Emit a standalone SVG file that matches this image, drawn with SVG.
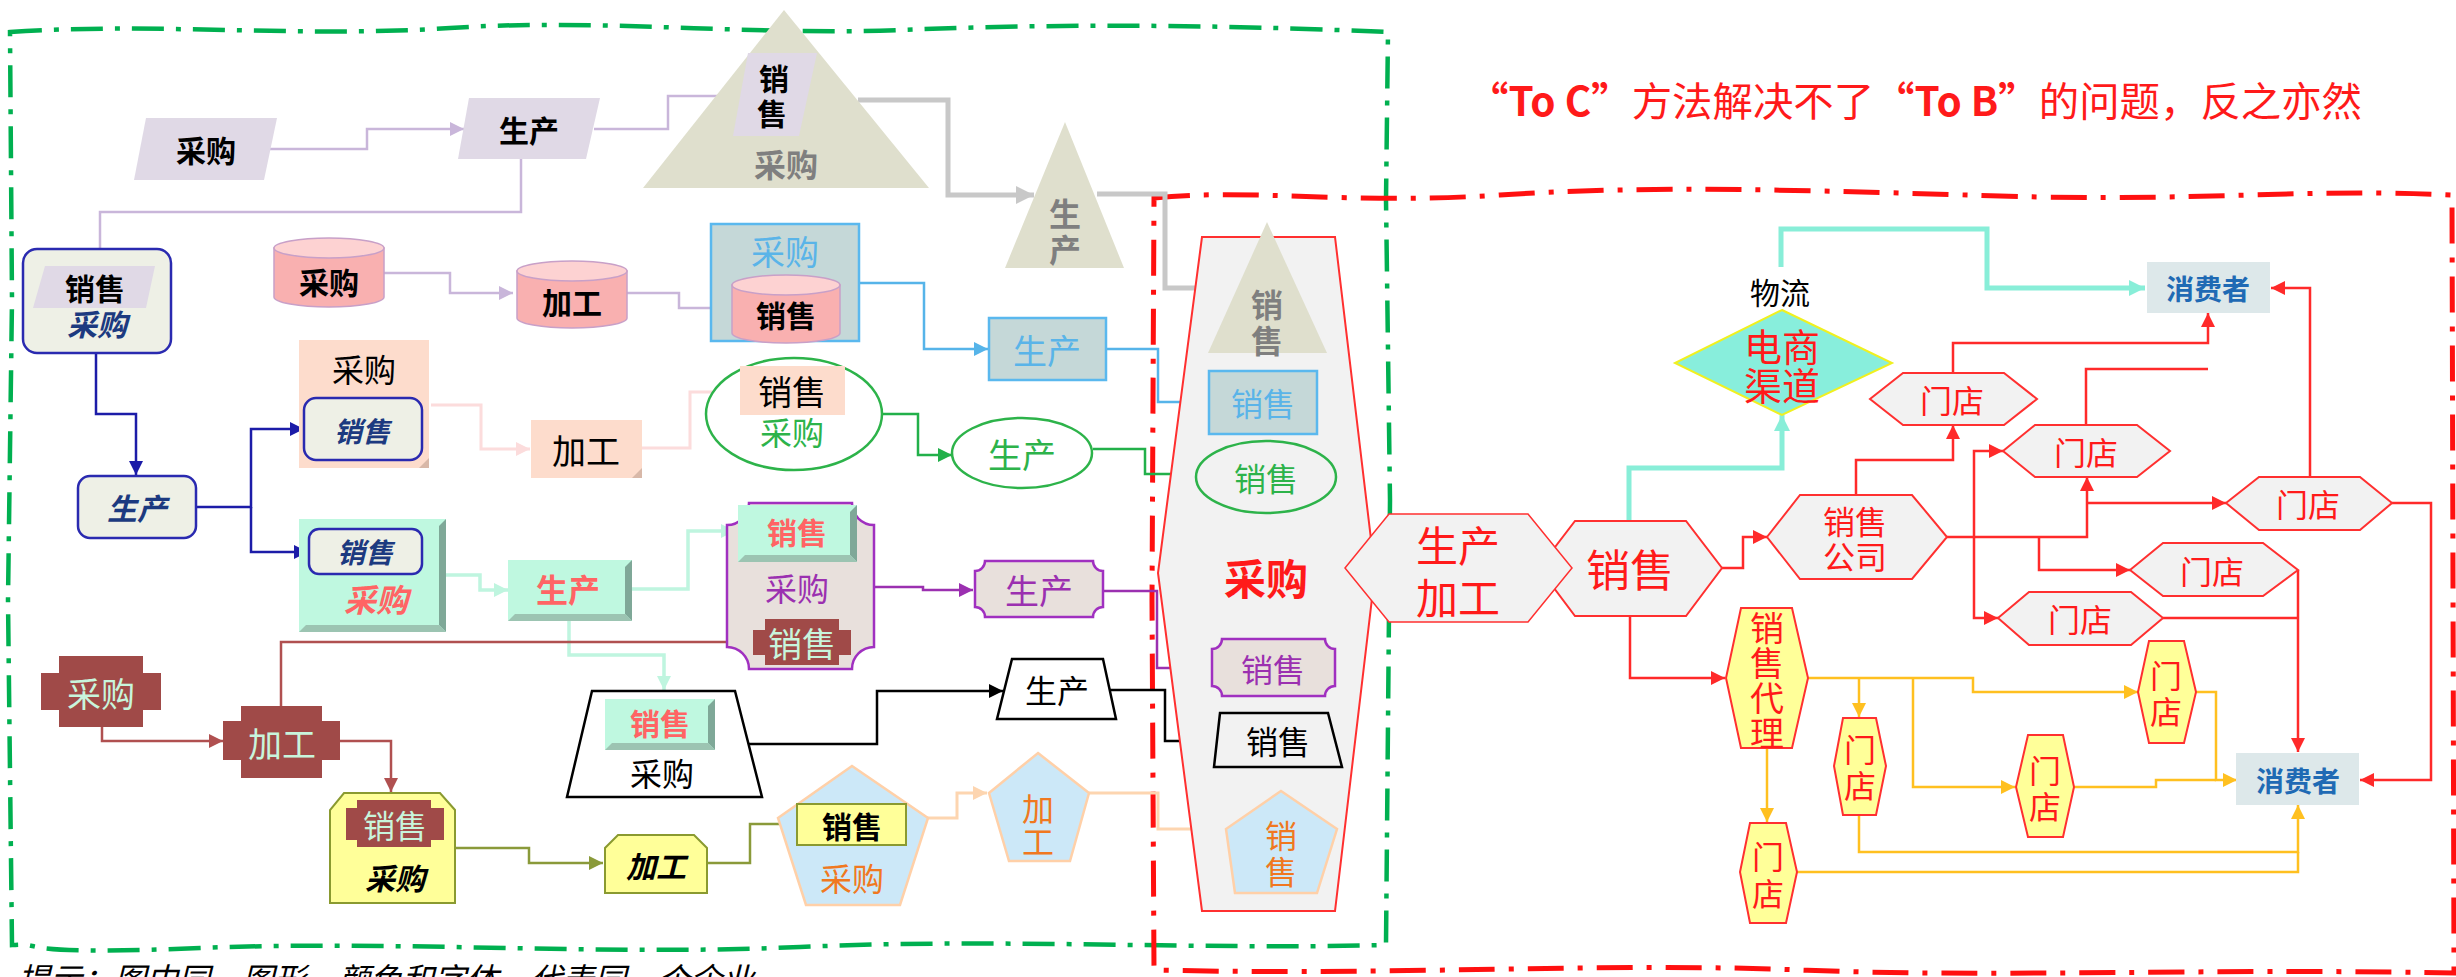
<svg xmlns="http://www.w3.org/2000/svg" width="2456" height="977" viewBox="0 0 2456 977">
<style>
text{font-family:"Noto Sans CJK SC","Liberation Sans",sans-serif;text-anchor:middle;dominant-baseline:central;font-size:32px;}
.b{font-weight:700}
.hw{font-style:italic;font-weight:700;fill:#1c3a80}
.c{fill:none;stroke-width:2.5}
.lav{stroke:#c9b6da}
.gry{stroke:#c8c8c8;stroke-width:5}
.blu{stroke:#56b4e9}
.grn{stroke:#22b04a}
.pnk{stroke:#fcdcdc;stroke-width:3}
.dbl{stroke:#1c1ca8}
.mnt{stroke:#bff5df;stroke-width:3.5}
.pur{stroke:#9b30b0}
.brn{stroke:#b05050}
.blk{stroke:#000}
.olv{stroke:#8a9a3a}
.pch{stroke:#fdd5b0;stroke-width:3}
.tea{stroke:#88eed8;stroke-width:5}
.red{stroke:#ff2a2a}
.gld{stroke:#ffc020}
.par{fill:#e0d9e6}
.tri{fill:#dfdfcd}
.cylb{fill:#f9b0b0;stroke:#c8a0c8;stroke-width:1.5}
.cylt{fill:#fdd2d2;stroke:#c8a0c8;stroke-width:1.5}
.bbox{fill:#c5d8d8;stroke:#5ab8ee;stroke-width:2.5}
.rbox{fill:#eef0e6;stroke:#2a2ab0;stroke-width:2.5}
.peach{fill:#fddccc}
.mint{fill:#bff8e0}
.bevR{fill:#7fa898}
.bevB{fill:#9cc4b2}
.purs{fill:#e8e0dc;stroke:#a030c0;stroke-width:2.5}
.brw{fill:#a04a48}
.yel{fill:#ffff99;stroke:#8a9a30;stroke-width:2}
.pent{fill:#cce8f8;stroke:#ffd0a8;stroke-width:2.5}
.gh{fill:#f2f2f2;stroke:#ff3030;stroke-width:2}
.yh{fill:#ffff99;stroke:#ff3030;stroke-width:2}
.cons{fill:#dde8ea}
.rt{fill:#ff1a1a}
.ct{fill:#1f6ab4;font-weight:700;font-size:28px}
</style>
<defs>
<marker id="a-lav" viewBox="0 0 10 10" refX="10" refY="5" markerWidth="14" markerHeight="14" markerUnits="userSpaceOnUse" orient="auto"><path d="M0,0L10,5L0,10Z" fill="#c9b6da"/></marker>
<marker id="a-gry" viewBox="0 0 10 10" refX="10" refY="5" markerWidth="18" markerHeight="18" markerUnits="userSpaceOnUse" orient="auto"><path d="M0,0L10,5L0,10Z" fill="#c8c8c8"/></marker>
<marker id="a-blu" viewBox="0 0 10 10" refX="10" refY="5" markerWidth="14" markerHeight="14" markerUnits="userSpaceOnUse" orient="auto"><path d="M0,0L10,5L0,10Z" fill="#56b4e9"/></marker>
<marker id="a-grn" viewBox="0 0 10 10" refX="10" refY="5" markerWidth="14" markerHeight="14" markerUnits="userSpaceOnUse" orient="auto"><path d="M0,0L10,5L0,10Z" fill="#22b04a"/></marker>
<marker id="a-pnk" viewBox="0 0 10 10" refX="10" refY="5" markerWidth="14" markerHeight="14" markerUnits="userSpaceOnUse" orient="auto"><path d="M0,0L10,5L0,10Z" fill="#fcdcdc"/></marker>
<marker id="a-dbl" viewBox="0 0 10 10" refX="10" refY="5" markerWidth="14" markerHeight="14" markerUnits="userSpaceOnUse" orient="auto"><path d="M0,0L10,5L0,10Z" fill="#1c1ca8"/></marker>
<marker id="a-mnt" viewBox="0 0 10 10" refX="10" refY="5" markerWidth="14" markerHeight="14" markerUnits="userSpaceOnUse" orient="auto"><path d="M0,0L10,5L0,10Z" fill="#bff5df"/></marker>
<marker id="a-pur" viewBox="0 0 10 10" refX="10" refY="5" markerWidth="14" markerHeight="14" markerUnits="userSpaceOnUse" orient="auto"><path d="M0,0L10,5L0,10Z" fill="#9b30b0"/></marker>
<marker id="a-brn" viewBox="0 0 10 10" refX="10" refY="5" markerWidth="14" markerHeight="14" markerUnits="userSpaceOnUse" orient="auto"><path d="M0,0L10,5L0,10Z" fill="#b05050"/></marker>
<marker id="a-blk" viewBox="0 0 10 10" refX="10" refY="5" markerWidth="14" markerHeight="14" markerUnits="userSpaceOnUse" orient="auto"><path d="M0,0L10,5L0,10Z" fill="#000"/></marker>
<marker id="a-olv" viewBox="0 0 10 10" refX="10" refY="5" markerWidth="14" markerHeight="14" markerUnits="userSpaceOnUse" orient="auto"><path d="M0,0L10,5L0,10Z" fill="#8a9a3a"/></marker>
<marker id="a-pch" viewBox="0 0 10 10" refX="10" refY="5" markerWidth="14" markerHeight="14" markerUnits="userSpaceOnUse" orient="auto"><path d="M0,0L10,5L0,10Z" fill="#fdd5b0"/></marker>
<marker id="a-tea" viewBox="0 0 10 10" refX="10" refY="5" markerWidth="16" markerHeight="16" markerUnits="userSpaceOnUse" orient="auto"><path d="M0,0L10,5L0,10Z" fill="#88eed8"/></marker>
<marker id="a-red" viewBox="0 0 10 10" refX="10" refY="5" markerWidth="14" markerHeight="14" markerUnits="userSpaceOnUse" orient="auto"><path d="M0,0L10,5L0,10Z" fill="#ff2a2a"/></marker>
<marker id="a-gld" viewBox="0 0 10 10" refX="10" refY="5" markerWidth="14" markerHeight="14" markerUnits="userSpaceOnUse" orient="auto"><path d="M0,0L10,5L0,10Z" fill="#ffc020"/></marker>
</defs>
<rect width="2456" height="977" fill="#fff"/>

<g id="borders" fill="none">
<path d="M10,32 C150,22 300,38 450,28 S750,36 900,30 S1200,24 1388,32 L1386,200 L1390,500 L1386,945 C1200,950 1000,938 800,947 S400,940 200,948 S50,942 12,945 L8,600 L12,300 Z" stroke="#00b050" stroke-width="4.5" stroke-dasharray="32 12 5 12"/>
<path d="M1154,198 C1250,188 1350,205 1500,195 S1800,190 2000,196 S2300,188 2452,195 L2454,973 C2200,968 2000,978 1800,970 S1400,976 1154,970 L1152,600 Z" stroke="#ff1010" stroke-width="5" stroke-dasharray="36 14 5 14"/>
</g>

<text id="title" x="1468" y="116" style="text-anchor:start;dominant-baseline:auto;font-size:40px" class="rt" textLength="894" lengthAdjust="spacingAndGlyphs"><tspan class="b">“To C”</tspan>方法解决不了<tspan class="b">“To B”</tspan>的问题，反之亦然</text>
<text id="note" x="18" y="991" style="text-anchor:start;dominant-baseline:auto;font-size:32px;font-style:italic">提示：图中同一图形、颜色和字体，代表同一个企业</text>

<g id="connectors" class="c">
<polyline class="c lav" points="270,149 367,149 367,129 464,129" marker-end="url(#a-lav)"/>
<polyline class="c lav" points="521,159 521,212 100,212 100,264" marker-end="url(#a-lav)"/>
<polyline class="c lav" points="594,129 668,129 668,96 740,96" marker-end="url(#a-lav)"/>
<polyline class="c lav" points="384,273 450,273 450,293 513,293" marker-end="url(#a-lav)"/>
<polyline class="c lav" points="627,293 679,293 679,308 730,308" marker-end="url(#a-lav)"/>
<polyline class="c gry" points="858,100 948,100 948,195 1034,195" marker-end="url(#a-gry)"/>
<polyline class="c gry" points="1097,194 1165,194 1165,288 1232,288" marker-end="url(#a-gry)"/>
<polyline class="c blu" points="859,283 924,283 924,349 988,349" marker-end="url(#a-blu)"/>
<polyline class="c blu" points="1106,349 1158,349 1158,402 1208,402" marker-end="url(#a-blu)"/>
<polyline class="c grn" points="883,414 918,414 918,455 952,455" marker-end="url(#a-grn)"/>
<polyline class="c grn" points="1093,449 1145,449 1145,474 1196,474" marker-end="url(#a-grn)"/>
<polyline class="c pnk" points="431,405 481,405 481,449 530,449" marker-end="url(#a-pnk)"/>
<polyline class="c pnk" points="642,448 690,448 690,392 737,392" marker-end="url(#a-pnk)"/>
<polyline class="c dbl" points="96,353 96,414 136,414 136,475" marker-end="url(#a-dbl)"/>
<polyline class="c dbl" points="196,507 251,507 251,429 304,429" marker-end="url(#a-dbl)"/>
<polyline class="c dbl" points="251,507 251,552 308,552" marker-end="url(#a-dbl)"/>
<polyline class="c mnt" points="446,575 480,575 480,590 508,590" marker-end="url(#a-mnt)"/>
<polyline class="c mnt" points="632,589 688,589 688,531 735,531" marker-end="url(#a-mnt)"/>
<polyline class="c mnt" points="569,621 569,655 664,655 664,690" marker-end="url(#a-mnt)"/>
<polyline class="c pur" points="874,587 923,587 923,590 973,590" marker-end="url(#a-pur)"/>
<polyline class="c pur" points="1103,591 1157,591 1157,668 1212,668" marker-end="url(#a-pur)"/>
<polyline class="c brn" points="102,727 102,741 223,741" marker-end="url(#a-brn)"/>
<polyline class="c brn" points="281,706 281,642 753,642" marker-end="url(#a-brn)"/>
<polyline class="c brn" points="340,741 391,741 391,792" marker-end="url(#a-brn)"/>
<polyline class="c blk" points="748,744 877,744 877,691 1003,691" marker-end="url(#a-blk)"/>
<polyline class="c blk" points="1110,690 1165,690 1165,741 1220,741" marker-end="url(#a-blk)"/>
<polyline class="c olv" points="455,848 529,848 529,863 603,863" marker-end="url(#a-olv)"/>
<polyline class="c olv" points="707,863 750,863 750,824 795,824" marker-end="url(#a-olv)"/>
<polyline class="c pch" points="924,818 957,818 957,793 987,793" marker-end="url(#a-pch)"/>
<polyline class="c pch" points="1089,793 1158,793 1158,829 1226,829" marker-end="url(#a-pch)"/>
<polyline class="c tea" points="1629,521 1629,468 1782,468 1782,415" marker-end="url(#a-tea)"/>
<polyline class="c tea" points="1781,267 1781,229 1987,229 1987,288 2145,288" marker-end="url(#a-tea)"/>
<polyline class="c red" points="1722,568 1743,568 1743,537 1767,537" marker-end="url(#a-red)"/>
<polyline class="c red" points="1856,495 1856,460 1953,460 1953,425" marker-end="url(#a-red)"/>
<polyline class="c red" points="1953,373 1953,343 2208,343 2208,313" marker-end="url(#a-red)"/>
<polyline class="c red" points="2086,425 2086,369 2208,369"/>
<polyline class="c red" points="1947,537 2087,537 2087,477" marker-end="url(#a-red)"/>
<polyline class="c red" points="2087,503 2226,503" marker-end="url(#a-red)"/>
<polyline class="c red" points="1974,537 1974,451 2003,451" marker-end="url(#a-red)"/>
<polyline class="c red" points="1974,537 1974,618 1998,618" marker-end="url(#a-red)"/>
<polyline class="c red" points="2039,537 2039,570 2130,570" marker-end="url(#a-red)"/>
<polyline class="c red" points="2310,477 2310,288 2271,288" marker-end="url(#a-red)"/>
<polyline class="c red" points="2392,503 2431,503 2431,780 2360,780" marker-end="url(#a-red)"/>
<polyline class="c red" points="2298,570 2298,752" marker-end="url(#a-red)"/>
<polyline class="c red" points="2163,618 2298,618"/>
<polyline class="c red" points="1630,616 1630,678 1725,678" marker-end="url(#a-red)"/>
<polyline class="c gld" points="1808,678 1973,678 1973,692 2138,692" marker-end="url(#a-gld)"/>
<polyline class="c gld" points="1859,678 1859,717" marker-end="url(#a-gld)"/>
<polyline class="c gld" points="1913,678 1913,787 2015,787" marker-end="url(#a-gld)"/>
<polyline class="c gld" points="1767,748 1767,822" marker-end="url(#a-gld)"/>
<polyline class="c gld" points="1859,815 1859,852 2298,852 2298,805" marker-end="url(#a-gld)"/>
<polyline class="c gld" points="1797,872 2298,872 2298,852"/>
<polyline class="c gld" points="2196,692 2216,692 2216,780 2237,780" marker-end="url(#a-gld)"/>
<polyline class="c gld" points="2074,787 2156,787 2156,780 2216,780"/>
</g>

<g id="n-caigou1"><polygon class="par" points="146,118 277,118 264,180 134,180"/><text x="206" y="149" class="b" style="font-size:30px">采购</text></g>
<g id="n-shengchan1"><polygon class="par" points="469,98 600,98 586,159 458,159"/><text x="529" y="129" class="b" style="font-size:30px">生产</text></g>
<g id="n-tri1"><polygon class="tri" points="784,10 929,188 643,188"/><polygon class="par" points="748,53 817,53 799,136 733,136"/><text x="774" y="77" class="b" style="font-size:30px">销<tspan x="772" dy="35">售</tspan></text><text x="786" y="163" class="b" style="fill:#7f7f7f;font-size:32px">采购</text></g>
<g id="n-tri2"><polygon class="tri" points="1065,122 1124,268 1005,268"/><text x="1065" y="212" class="b" style="fill:#7f7f7f">生<tspan x="1065" dy="36">产</tspan></text></g>
<g id="n-xs-cg"><rect x="23" y="249" width="148" height="104" rx="14" class="rbox"/><polygon class="par" points="45,266 155,266 146,308 33,308"/><text x="95" y="287" class="b" style="font-size:30px">销售</text><text x="97" y="323" class="hw" style="font-size:30px">采购</text></g>
<g id="n-cyl-cg"><path class="cylb" d="M274,248 V297 A55,10 0 0 0 384,297 V248 Z"/><ellipse class="cylt" cx="329" cy="248" rx="55" ry="10"/><text x="329" y="281" class="b" style="font-size:30px">采购</text></g>
<g id="n-cyl-jg"><path class="cylb" d="M517,271 V318 A55,10 0 0 0 627,318 V271 Z"/><ellipse class="cylt" cx="572" cy="271" rx="55" ry="10"/><text x="572" y="301" class="b" style="font-size:30px">加工</text></g>
<g id="n-blue-cg"><rect x="711" y="224" width="148" height="117" class="bbox"/><text x="785" y="250" style="fill:#5ab4e8;font-size:34px">采购</text><path class="cylb" d="M732,285 V333 A54,10 0 0 0 840,333 V285 Z"/><ellipse class="cylt" cx="786" cy="285" rx="54" ry="10"/><text x="786" y="314" class="b" style="font-size:30px">销售</text></g>
<g id="n-blue-sc"><rect x="989" y="318" width="117" height="62" class="bbox"/><text x="1047" y="349" style="fill:#5ab4e8;font-size:34px">生产</text></g>
<g id="n-peach-cg"><rect x="299" y="340" width="130" height="128" class="peach"/><polygon points="419,468 429,458 429,468" fill="#d8b8a8"/><text x="364" y="368">采购</text><rect x="304" y="398" width="118" height="62" rx="12" class="rbox"/><text x="362" y="430" class="hw" style="font-size:28px">销售</text></g>
<g id="n-peach-jg"><rect x="531" y="420" width="111" height="58" class="peach"/><polygon points="632,478 642,468 642,478" fill="#d8b8a8"/><text x="586" y="449" style="font-size:34px">加工</text></g>
<g id="n-ell-xs"><ellipse cx="794" cy="414" rx="88" ry="56" fill="#fff" stroke="#2db34a" stroke-width="2.5"/><rect x="740" y="366" width="105" height="49" class="peach"/><text x="792" y="390" style="font-size:34px">销售</text><text x="792" y="431" style="fill:#2db34a">采购</text></g>
<g id="n-ell-sc"><ellipse cx="1022" cy="453" rx="70" ry="35" fill="#fff" stroke="#2db34a" stroke-width="2.5"/><text x="1022" y="453" style="fill:#2db34a;font-size:34px">生产</text></g>
<g id="n-rb-sc"><rect x="78" y="476" width="118" height="62" rx="12" class="rbox"/><text x="137" y="507" class="hw" style="font-size:30px">生产</text></g>
<g id="n-mint-big"><rect x="299" y="519" width="147" height="113" class="mint"/><polygon class="bevR" points="439,526 446,519 446,632 439,625"/><polygon class="bevB" points="299,632 306,625 439,625 446,632"/><rect x="309" y="529" width="113" height="45" rx="10" class="rbox"/><text x="365" y="551" class="hw" style="font-size:28px">销售</text><text x="376" y="598" class="hw" style="fill:#ff6464">采购</text></g>
<g id="n-mint-sc"><rect x="508" y="560" width="124" height="61" class="mint"/><polygon class="bevR" points="625,567 632,560 632,621 625,614"/><polygon class="bevB" points="508,621 515,614 625,614 632,621"/><text x="568" y="588" class="b" style="fill:#ff6464">生产</text></g>
<g id="n-pur-big"><path class="purs" d="M749,503 H852 A22,22 0 0 0 874,525 V647 A22,22 0 0 0 852,669 H749 A22,22 0 0 0 727,647 V525 A22,22 0 0 0 749,503 Z"/><rect x="738" y="505" width="119" height="57" class="mint"/><polygon class="bevR" points="850,512 857,505 857,562 850,555"/><polygon class="bevB" points="738,562 745,555 850,555 857,562"/><text x="797" y="531" class="b" style="fill:#ff6464;font-size:30px">销售</text><text x="797" y="587" style="fill:#9b30b0">采购</text><polygon class="brw" points="765,619 839,619 839,630 851,630 851,655 839,655 839,665 765,665 765,655 753,655 753,630 765,630"/><text x="802" y="642" style="fill:#c8f5dc;font-size:34px">销售</text></g>
<g id="n-pur-sc"><path class="purs" d="M985,561 H1093 A10,10 0 0 0 1103,571 V607 A10,10 0 0 0 1093,617 H985 A10,10 0 0 0 975,607 V571 A10,10 0 0 0 985,561 Z"/><text x="1039" y="589" style="fill:#9b30b0;font-size:34px">生产</text></g>
<g id="n-trap-big"><polygon points="592,691 735,691 762,797 567,797" fill="#fff" stroke="#000" stroke-width="2.5"/><rect x="605" y="699" width="110" height="51" class="mint"/><polygon class="bevR" points="708,706 715,699 715,750 708,743"/><polygon class="bevB" points="605,750 612,743 708,743 715,750"/><text x="660" y="722" class="b" style="fill:#ff6464;font-size:30px">销售</text><text x="662" y="772">采购</text></g>
<g id="n-trap-sc"><polygon points="1012,659 1103,659 1116,719 997,719" fill="#fff" stroke="#000" stroke-width="2.5"/><text x="1057" y="689">生产</text></g>
<g id="n-brown-cg"><polygon class="brw" points="59,656 143,656 143,673 161,673 161,710 143,710 143,727 59,727 59,710 41,710 41,673 59,673"/><text x="101" y="692" style="fill:#c8f5dc;font-size:34px">采购</text></g>
<g id="n-brown-jg"><polygon class="brw" points="241,706 322,706 322,721 340,721 340,760 322,760 322,778 241,778 241,760 223,760 223,721 241,721"/><text x="282" y="742" style="fill:#c8f5dc;font-size:34px">加工</text></g>
<g id="n-yel-xs"><polygon class="yel" points="344,793 440,793 455,810 455,903 330,903 330,810"/><polygon class="brw" points="357,800 431,800 431,808 444,808 444,840 431,840 431,847 357,847 357,840 346,840 346,808 357,808"/><text x="395" y="824" style="fill:#c8f5dc;font-size:32px">销售</text><text x="395" y="877" class="hw" style="fill:#000;font-size:30px">采购</text></g>
<g id="n-yel-jg"><polygon class="yel" points="618,835 694,835 707,848 707,893 605,893 605,848"/><text x="656" y="865" class="hw" style="fill:#000;font-size:30px">加工</text></g>
<g id="n-pent-xs"><polygon class="pent" points="852,766 928,818 900,905 806,905 778,818"/><rect x="797" y="804" width="109" height="41" class="yel"/><text x="852" y="825" class="b" style="font-size:30px">销售</text><text x="852" y="877" style="fill:#f07820">采购</text></g>
<g id="n-pent-jg"><polygon class="pent" points="1038,753 1089,793 1070,861 1009,861 989,793"/><text x="1038" y="807" style="fill:#f07820">加<tspan x="1038" dy="33">工</tspan></text></g>

<g id="n-big-hex"><polygon class="gh" points="1202,237 1335,237 1375,573 1335,911 1202,911 1158,573"/><text x="1266" y="576" class="rt" style="font-size:42px;font-weight:600">采购</text></g>
<g id="n-hx-tri"><polygon class="tri" points="1267,222 1327,353 1208,353"/><text x="1267" y="303" class="b" style="fill:#7f7f7f">销<tspan x="1267" dy="36">售</tspan></text></g>
<g id="n-hx-blue"><rect x="1209" y="371" width="108" height="63" class="bbox"/><text x="1263" y="402" style="fill:#5ab4e8">销售</text></g>
<g id="n-hx-green"><ellipse cx="1266" cy="477" rx="70" ry="36" fill="#f2f2f2" stroke="#2db34a" stroke-width="2.5"/><text x="1266" y="477" style="fill:#2db34a">销售</text></g>
<g id="n-hx-pur"><path class="purs" d="M1222,639 H1325 A10,10 0 0 0 1335,649 V686 A10,10 0 0 0 1325,696 H1222 A10,10 0 0 0 1212,686 V649 A10,10 0 0 0 1222,639 Z"/><text x="1273" y="668" style="fill:#9b30b0">销售</text></g>
<g id="n-hx-trap"><polygon points="1220,713 1328,713 1342,767 1214,767" fill="#f2f2f2" stroke="#000" stroke-width="2.5"/><text x="1278" y="740">销售</text></g>
<g id="n-hx-pent"><polygon class="pent" points="1281,791 1337,829 1317,893 1235,893 1226,829"/><text x="1281" y="834" style="fill:#f07820">销<tspan x="1281" dy="36">售</tspan></text></g>

<g id="n-xiaoshou"><polygon class="gh" points="1539,568 1575,521 1686,521 1722,568 1686,616 1575,616"/><text x="1630" y="568" class="rt" style="font-size:44px">销售</text></g>
<g id="n-scjg"><polygon class="gh" points="1345,568 1389,514 1528,514 1572,568 1528,622 1389,622" style="stroke-width:1.5"/><text x="1458" y="543" class="rt" style="font-size:42px">生产<tspan x="1458" dy="52">加工</tspan></text></g>
<g id="n-dianshang"><text x="1780" y="291" style="font-size:30px">物流</text><polygon points="1782,310 1892,363 1782,415 1675,363" fill="#88eedc" stroke="#f0f020" stroke-width="2"/><text x="1782" y="344" class="rt" style="font-size:38px">电商<tspan x="1782" dy="39">渠道</tspan></text></g>
<g id="n-xsgs"><polygon class="gh" points="1767,537 1800,495 1912,495 1947,537 1912,579 1800,579"/><text x="1855" y="520" class="rt">销售<tspan x="1855" dy="35">公司</tspan></text></g>
<g id="n-md1"><polygon class="gh" points="1870,399 1903,373 2004,373 2037,399 2004,425 1903,425"/><text x="1952" y="399" class="rt">门店</text></g>
<g id="n-md2"><polygon class="gh" points="2003,451 2035,425 2137,425 2170,451 2137,477 2035,477"/><text x="2086" y="451" class="rt">门店</text></g>
<g id="n-md3"><polygon class="gh" points="2226,503 2259,477 2360,477 2392,503 2360,530 2259,530"/><text x="2308" y="503" class="rt">门店</text></g>
<g id="n-md4"><polygon class="gh" points="2130,570 2163,543 2263,543 2298,570 2263,596 2163,596"/><text x="2212" y="570" class="rt">门店</text></g>
<g id="n-md5"><polygon class="gh" points="1998,618 2029,592 2131,592 2163,618 2131,645 2029,645"/><text x="2080" y="618" class="rt">门店</text></g>
<g id="n-xsdl"><polygon class="yh" points="1741,608 1792,608 1808,678 1792,748 1741,748 1726,678"/><text x="1767" y="626" class="rt" style="font-size:34px">销<tspan x="1767" dy="35">售</tspan><tspan x="1767" dy="35">代</tspan><tspan x="1767" dy="35">理</tspan></text></g>
<g id="n-ymdA"><polygon class="yh" points="1843,718 1876,718 1886,766 1876,815 1843,815 1834,766"/><text x="1860" y="748" class="rt">门<tspan x="1860" dy="36">店</tspan></text></g>
<g id="n-ymdB"><polygon class="yh" points="2149,641 2184,641 2196,692 2184,743 2149,743 2138,692"/><text x="2166" y="674" class="rt">门<tspan x="2166" dy="36">店</tspan></text></g>
<g id="n-ymdC"><polygon class="yh" points="2028,735 2063,735 2074,787 2063,837 2028,837 2016,787"/><text x="2045" y="769" class="rt">门<tspan x="2045" dy="36">店</tspan></text></g>
<g id="n-ymdD"><polygon class="yh" points="1750,823 1786,823 1797,872 1786,923 1750,923 1740,872"/><text x="1768" y="855" class="rt">门<tspan x="1768" dy="37">店</tspan></text></g>
<g id="n-xfz1"><rect x="2147" y="262" width="123" height="51" class="cons"/><text x="2208" y="288" class="ct">消费者</text></g>
<g id="n-xfz2"><rect x="2236" y="753" width="123" height="52" class="cons"/><text x="2298" y="780" class="ct">消费者</text></g>
</svg>
